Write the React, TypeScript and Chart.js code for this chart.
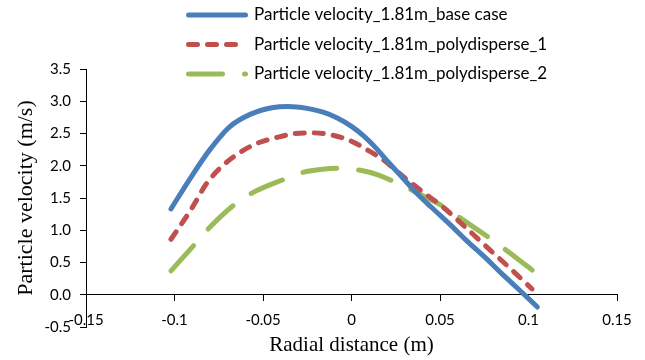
import React, { useEffect, useRef } from "react";
import { Chart, registerables } from "chart.js";

Chart.register(...registerables);

const seriesNames = [
  "Particle velocity_1.81m_base case",
  "Particle velocity_1.81m_polydisperse_1",
  "Particle velocity_1.81m_polydisperse_2",
];
const seriesColors = ["#4A7EBB", "#C0504D", "#9BBB59"];

const baseX = [-0.102, -0.091, -0.08, -0.069, -0.057, -0.045, -0.036, -0.025, -0.016, -0.008, 0.0, 0.007, 0.014, 0.021, 0.029, 0.037, 0.045, 0.056, 0.065, 0.075, 0.084, 0.095, 0.105];
const baseY = [1.33, 1.81, 2.25, 2.6, 2.8, 2.9, 2.92, 2.89, 2.83, 2.74, 2.61, 2.46, 2.27, 2.05, 1.81, 1.57, 1.36, 1.08, 0.84, 0.59, 0.35, 0.07, -0.19];

const poly1X = [-0.102, -0.09, -0.082, -0.074, -0.065, -0.054, -0.042, -0.032, -0.022, -0.01, 0.0, 0.008, 0.018, 0.028, 0.039, 0.053, 0.065, 0.078, 0.09, 0.102];
const poly1Y = [0.86, 1.35, 1.72, 1.97, 2.17, 2.34, 2.44, 2.5, 2.51, 2.47, 2.38, 2.26, 2.09, 1.86, 1.62, 1.33, 1.03, 0.7, 0.4, 0.09];

const poly2X = [-0.102, -0.088, -0.081, -0.066, -0.056, -0.038, -0.027, -0.015, -0.006, 0.005, 0.015, 0.025, 0.035, 0.053, 0.062, 0.079, 0.088, 0.105];
const poly2Y = [0.37, 0.8, 1.02, 1.4, 1.58, 1.79, 1.9, 1.95, 1.96, 1.93, 1.86, 1.74, 1.61, 1.35, 1.18, 0.86, 0.68, 0.32];

const seriesDash = [[], [9, 10], [34, 22]];

const xTitle = "Radial distance (m)";
const yTitle = "Particle velocity (m/s)";

const toPoints = (xs: number[], ys: number[]) => xs.map((x, i) => ({ x, y: ys[i] }));

export default function App() {
  const ref = useRef<HTMLCanvasElement>(null);

  useEffect(() => {
    if (!ref.current) return;

    const legendPlugin = {
      id: "customLegend",
      afterDraw(chart: any) {
        const ctx = chart.ctx as CanvasRenderingContext2D;
        ctx.save();
        chart.data.datasets.forEach((ds: any, i: number) => {
          const y = 15 + i * 29.5;
          ctx.beginPath();
          ctx.strokeStyle = ds.borderColor;
          ctx.lineWidth = ds.borderWidth;
          ctx.lineCap = "round";
          ctx.setLineDash(ds.borderDash || []);
          ctx.moveTo(188.5, y);
          ctx.lineTo(245.5, y);
          ctx.stroke();
          ctx.setLineDash([]);
          ctx.fillStyle = "#000";
          ctx.font = "17px Lato";
          ctx.textBaseline = "middle";
          ctx.textAlign = "left";
          ctx.fillText(ds.label, 254, y);
        });
        ctx.restore();
      },
    };

    const datasets = [
      toPoints(baseX, baseY),
      toPoints(poly1X, poly1Y),
      toPoints(poly2X, poly2Y),
    ].map((data, i) => ({
      label: seriesNames[i],
      data,
      borderColor: seriesColors[i],
      backgroundColor: seriesColors[i],
      borderWidth: 5,
      borderDash: seriesDash[i],
      borderCapStyle: "round" as const,
      borderJoinStyle: "round" as const,
      pointRadius: 0,
      cubicInterpolationMode: "monotone" as const,
      fill: false,
    }));

    const chart = new Chart(ref.current, {
      type: "line",
      data: { datasets },
      options: {
        animation: false,
        responsive: false,
        layout: { padding: { top: 69, right: 28, bottom: 33, left: 0 } },
        plugins: { legend: { display: false }, tooltip: { enabled: false } },
        scales: {
          x: {
            type: "linear",
            min: -0.15,
            max: 0.15,
            position: { y: 0 } as any,
            ticks: {
              stepSize: 0.05,
              color: "#000",
              font: { family: "Lato", size: 15 },
              padding: 10,
              maxRotation: 0,
              callback: (v: any) => String(parseFloat(Number(v).toFixed(3))),
            },
            grid: { drawOnChartArea: false, drawTicks: true, tickLength: 6, color: "#000" },
            border: { color: "#000", width: 1 },
            title: {
              display: true,
              text: xTitle,
              color: "#000",
              font: { family: "Liberation Serif", size: 21 },
              padding: { top: 0, bottom: 0 },
            },
            afterFit: (scale: any) => {
              scale.height = 63;
            },
          },
          y: {
            type: "linear",
            min: -0.5,
            max: 3.5,
            ticks: {
              stepSize: 0.5,
              color: "#000",
              font: { family: "Lato", size: 15 },
              padding: 9,
              callback: (v: any) => Number(v).toFixed(1),
            },
            grid: { drawOnChartArea: false, drawTicks: true, tickLength: 6, color: "#000" },
            border: { color: "#000", width: 1 },
            title: {
              display: true,
              text: yTitle,
              color: "#000",
              font: { family: "Liberation Serif", size: 22 },
              padding: { top: 13, bottom: 0 },
            },
            afterFit: (scale: any) => {
              scale.width = 86;
            },
          },
        },
      },
      plugins: [legendPlugin],
    });

    return () => chart.destroy();
  }, []);

  return (
    <div style={{ position: "fixed", left: 0, top: 0, width: 645, height: 360, background: "#fff" }}>
      <canvas ref={ref} width={645} height={360} style={{ display: "block" }} />
    </div>
  );
}
